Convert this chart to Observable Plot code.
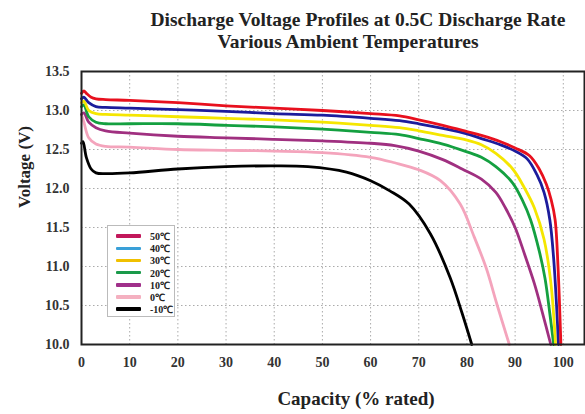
<!DOCTYPE html>
<html>
<head>
<meta charset="utf-8">
<script src="https://cdn.jsdelivr.net/npm/d3@7"></script>
<script src="https://cdn.jsdelivr.net/npm/@observablehq/plot@0.6"></script>
<style>
  html, body { margin: 0; padding: 0; background: #fff; }
  #wrap { position: relative; width: 585px; height: 414px; }
  #legend { position: absolute; left: 107px; top: 225px; width: 68px; height: 92px;
    border: 1px solid #bbb; background: #fff; box-sizing: border-box; padding-top: 4px;
    font-family: "Liberation Serif", serif; font-weight: bold; font-size: 10px; color: #222; }
  .row { display: flex; align-items: center; height: 12.2px; }
  .sw { width: 25px; height: 3.5px; margin-left: 8px; margin-right: 9px; border-radius: 1px; }
</style>
</head>
<body>
<div id="wrap"><div id="legend"></div></div>
<script>
const titleLines = ["Discharge Voltage Profiles at 0.5C Discharge Rate", "Various Ambient Temperatures"];
const xLabel = "Capacity (% rated)";
const yLabel = "Voltage (V)";
const xTicks = [0, 10, 20, 30, 40, 50, 60, 70, 80, 90, 100];
const yTicks = [10.0, 10.5, 11.0, 11.5, 12.0, 12.5, 13.0, 13.5];

const temps = ["50℃", "40℃", "30℃", "20℃", "10℃", "0℃", "-10℃"];
const lineColors = ["#e8101e", "#1c1c9c", "#f5e600", "#14a040", "#a03080", "#f4a4bc", "#000000"];
const legendColors = ["#c2185b", "#3aa0d8", "#f0c000", "#1a9a4a", "#a0308a", "#f4b0c0", "#000000"];

// [capacity %, voltage V]
const t50 = [[0,13.22],[0.5,13.25],[1,13.22],[2,13.17],[3,13.15],[5,13.14],[10,13.13],[20,13.1],[30,13.06],[40,13.03],[50,13.0],[60,12.96],[66,12.93],[70,12.88],[75,12.81],[80,12.73],[83,12.68],[87,12.6],[90,12.52],[93,12.42],[95,12.25],[96.5,12.05],[97.5,11.85],[98.3,11.6],[98.9,11.0],[99.5,10.0]];
const t40 = [[0,13.15],[0.5,13.17],[1.5,13.1],[3,13.05],[5,13.04],[10,13.03],[20,13.01],[30,12.99],[40,12.96],[50,12.94],[60,12.9],[66,12.87],[70,12.83],[75,12.77],[80,12.7],[83,12.64],[87,12.56],[90,12.48],[92.5,12.38],[94.5,12.18],[96,11.95],[97.2,11.6],[98,11.1],[98.6,10.5],[99.0,10.0]];
const t30 = [[0,13.1],[0.5,13.12],[1.5,13.0],[3,12.96],[5,12.95],[10,12.94],[20,12.92],[30,12.9],[40,12.88],[50,12.85],[60,12.81],[66,12.78],[70,12.74],[75,12.68],[80,12.62],[83,12.56],[86,12.45],[89.5,12.25],[92,12.0],[94,11.75],[96,11.35],[97.4,10.8],[98.4,10.0]];
const t20 = [[0,13.05],[0.5,13.07],[1.5,12.92],[3,12.85],[5,12.83],[10,12.83],[20,12.83],[30,12.81],[40,12.79],[50,12.76],[60,12.72],[66,12.69],[70,12.64],[75,12.57],[80,12.47],[83,12.4],[86,12.28],[89.5,12.07],[91.5,11.85],[93.2,11.6],[95,11.2],[96.2,10.85],[97.3,10.35],[98.0,10.0]];
const t10 = [[0,12.95],[0.5,12.97],[1.5,12.85],[3,12.78],[5,12.74],[10,12.71],[20,12.67],[30,12.65],[40,12.63],[50,12.61],[60,12.58],[65,12.55],[70,12.48],[75,12.37],[79,12.25],[83,12.12],[86,11.95],[88,11.75],[90,11.5],[92,11.15],[94,10.78],[95.7,10.4],[97.4,10.0]];
const t0 = [[0,12.95],[0.5,12.85],[1.5,12.65],[3,12.57],[5,12.54],[10,12.53],[20,12.5],[30,12.49],[40,12.48],[50,12.46],[60,12.4],[65,12.33],[70,12.24],[74.5,12.1],[78.6,11.8],[81.5,11.38],[84,10.98],[86.3,10.5],[88.8,10.0]];
const tm10 = [[0,12.58],[0.3,12.6],[1,12.4],[2,12.25],[3,12.2],[5,12.19],[10,12.2],[20,12.25],[30,12.28],[40,12.29],[47,12.28],[55,12.21],[60,12.1],[64,11.97],[68,11.8],[72.4,11.42],[76.5,10.86],[79,10.4],[81,10.0]];

const seriesData = [t50, t40, t30, t20, t10, t0, tm10];
const rows = [];
seriesData.forEach((arr, i) => arr.forEach(([x, v]) => rows.push({temp: temps[i], x, v})));
const drawOrder = ["0℃", "-10℃", "10℃", "20℃", "30℃", "40℃", "50℃"];

const serif = "'Liberation Serif', 'Times New Roman', serif";

const chart = Plot.plot({
  width: 585, height: 414,
  marginLeft: 81, marginRight: 1, marginTop: 71, marginBottom: 70,
  style: {fontFamily: serif, background: "transparent", color: "#222"},
  x: {domain: [0, 104.4]},
  y: {domain: [10, 13.5]},
  color: {domain: temps, range: lineColors},
  marks: [
    Plot.gridX(xTicks.filter(d => d > 0), {stroke: "#888", strokeOpacity: 0.7, strokeDasharray: "1.5,2.5"}),
    Plot.gridY(yTicks.filter(d => d > 10 && d < 13.5), {stroke: "#888", strokeOpacity: 0.7, strokeDasharray: "1.5,2.5"}),
    ...drawOrder.map(t => Plot.line(rows.filter(r => r.temp === t), {x: "x", y: "v", stroke: "temp", strokeWidth: 2.8, curve: "catmull-rom"})),
    Plot.frame({stroke: "#222", strokeWidth: 2}),
    Plot.axisX(xTicks, {tickSize: 0, tickPadding: 13, fontSize: 14, fontWeight: "bold", fill: "#333", label: null}),
    Plot.axisY(yTicks, {tickSize: 0, tickPadding: 12, fontSize: 14, fontWeight: "bold", fill: "#333", label: null, tickFormat: d3.format(".1f")}),
    Plot.text([yLabel], {frameAnchor: "left", dx: -57, rotate: -90, fontSize: 17, fontWeight: "bold", fill: "#222"}),
    Plot.text([xLabel], {frameAnchor: "bottom", dx: 23, dy: 60, fontSize: 19, fontWeight: "bold", fill: "#222"}),
    Plot.text([titleLines[0]], {frameAnchor: "top", dx: 25, dy: -59, fontSize: 19.5, fontWeight: "bold", fill: "#222"}),
    Plot.text([titleLines[1]], {frameAnchor: "top", dx: 15, dy: -37, fontSize: 19.5, fontWeight: "bold", fill: "#222"})
  ]
});
document.getElementById("wrap").prepend(chart);

const leg = d3.select("#legend");
temps.forEach((t, i) => {
  const r = leg.append("div").attr("class", "row");
  r.append("div").attr("class", "sw").style("background", legendColors[i]);
  r.append("span").text(t);
});
</script>
</body>
</html>
